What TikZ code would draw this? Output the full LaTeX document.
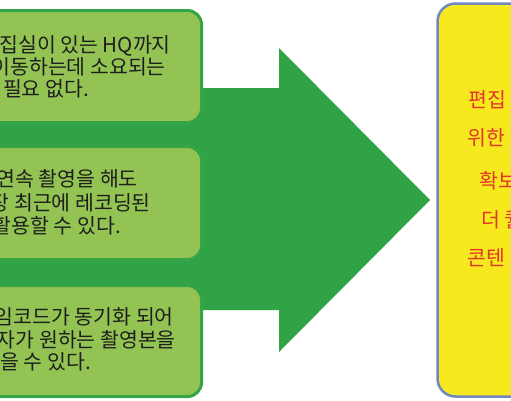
\documentclass[tikz,border=0pt]{standalone}
\usepackage{fontspec}
\setmainfont{Noto Sans CJK KR}
\definecolor{arrowgreen}{HTML}{2FA346}
\definecolor{boxfill}{HTML}{93C353}
\definecolor{boxline}{HTML}{34A447}
\definecolor{ytext}{HTML}{E5352B}
\definecolor{yfill}{HTML}{F6E91E}
\definecolor{yline}{HTML}{7187C2}
\definecolor{btext}{HTML}{1E1E1E}
\begin{document}
\begin{tikzpicture}[x=1pt,y=-1pt,
  gbox/.style={draw=boxline,line width=3pt,fill=boxfill,rounded corners=14pt},
  ybox/.style={draw=yline,line width=2.5pt,fill=yfill,rounded corners=18pt},
  gtext/.style={anchor=base east,inner sep=0pt,text=btext,font=\fontsize{20.5}{22}\selectfont},
  ytxt/.style={anchor=base west,inner sep=0pt,text=ytext,font=\fontsize{20.5}{22}\selectfont}]
\useasboundingbox (0,0) rectangle (511,400);
\clip (0,0) rectangle (511,400);
% big arrow
\fill[arrowgreen] (-20,88) -- (279,88) -- (279,48) -- (430,200) -- (279,352)
  -- (279,310) -- (-20,310) -- cycle;
% green boxes
\draw[gbox] (-40,10.5) rectangle (201.5,122.5);
\draw[gbox] (-40,146.5) rectangle (201.5,259.5);
\draw[gbox] (-40,285.5) rectangle (201.5,396.5);
% yellow box
\draw[ybox] (437.5,3.5) rectangle (620,396.5);
% box 1 text
\node[gtext] (t11) at (171,52) {집실이 있는 HQ까지};
\node[gtext] (t12) at (166,74.5) {이동하는데 소요되는};
\node[gtext] (t13) at (89,96.5) {필요 없다.};
% box 2 text
\node[gtext] (t21) at (138,186) {연속 촬영을 해도};
\node[gtext] (t22) at (151,210) {장 최근에 레코딩된};
\node[gtext] (t23) at (121,233.5) {활용할 수 있다.};
% box 3 text
\node[gtext] (t31) at (174,324.5) {임코드가 동기화 되어};
\node[gtext] (t32) at (176,347.5) {자가 원하는 촬영본을};
\node[gtext] (t33) at (91,369.5) {을 수 있다.};
% yellow text
\node[ytxt] (y1) at (468,107) {편집};
\node[ytxt] (y2) at (467,145.5) {위한};
\node[ytxt] (y3) at (479,188.5) {확보};
\node[ytxt] (y4) at (481,227.5) {더 퀄};
\node[ytxt] (y5) at (467,265) {콘텐};
\end{tikzpicture}
\end{document}
